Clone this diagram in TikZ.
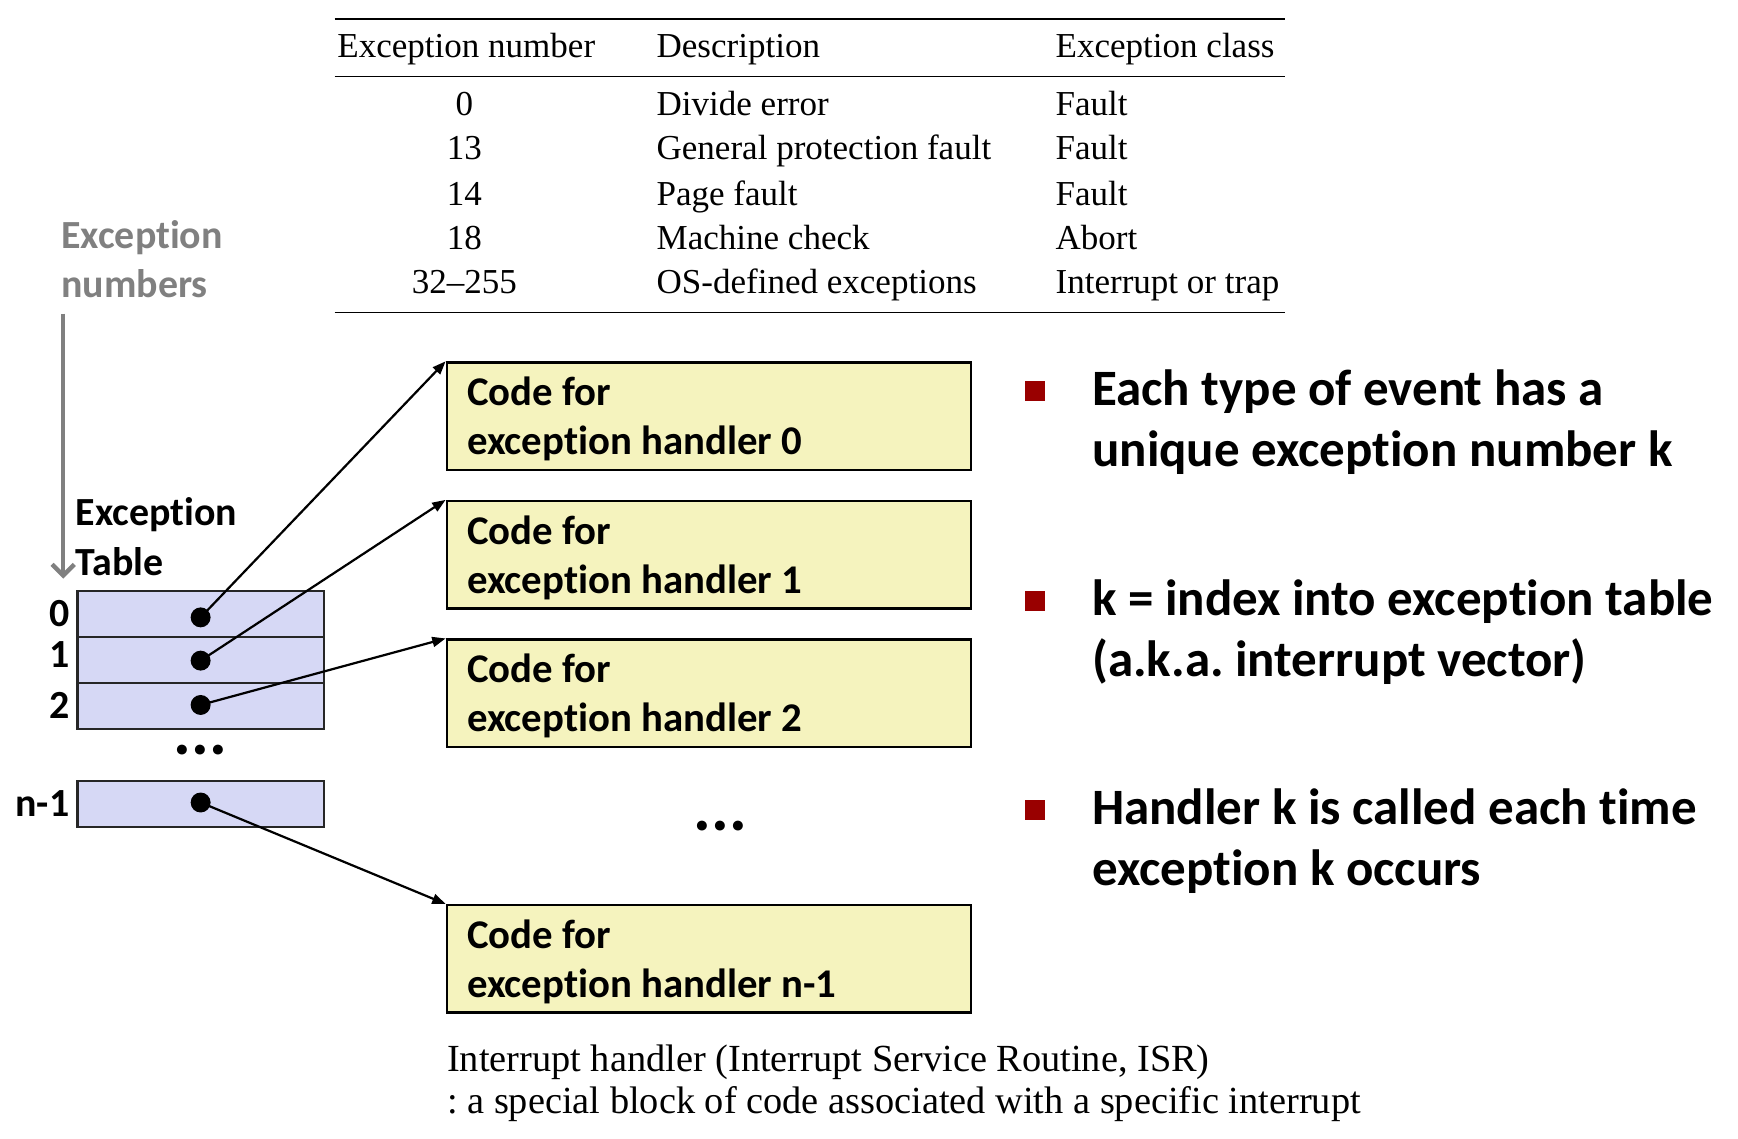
\documentclass[tikz,border=0pt]{standalone}
\usepackage{fontspec}
\setmainfont{Liberation Serif}
\newfontfamily\cbf{Carlito}[Ligatures=NoCommon]
\usetikzlibrary{arrows.meta}
\definecolor{lav}{HTML}{D6D8F5}
\definecolor{yel}{HTML}{F5F3BE}
\definecolor{bulred}{HTML}{990000}
\definecolor{gtext}{HTML}{808080}
\frenchspacing
\tikzset{
  tt/.style={inner sep=0pt, font=\fontsize{15.8}{18}\selectfont},
  rulex/.style={line width=0.8pt, black},
  glab/.style={inner sep=0pt, text=gtext, font=\cbf\bfseries\fontsize{18}{22}\selectfont},
  blab/.style={inner sep=0pt, font=\cbf\bfseries\fontsize{18}{22}\selectfont},
  cell/.style={draw=black!85, line width=1pt, fill=lav, minimum width=111pt, minimum height=20.75pt, inner sep=0pt},
  dotn/.style={circle, fill=black, minimum size=9pt, inner sep=0pt},
  codebox/.style={draw=black, line width=1pt, fill=yel, minimum width=236.5pt, minimum height=48.5pt, inner sep=0pt},
  ct/.style={inner sep=0pt, font=\cbf\bfseries\fontsize{18.4}{22}\selectfont},
  arr/.style={line width=1pt, -{Triangle[length=6pt,width=4.5pt]}},
  bul/.style={fill=bulred, minimum size=9pt, inner sep=0pt},
  bt/.style={inner sep=0pt, font=\cbf\bfseries\fontsize{23}{27}\selectfont},
  dots/.style={inner sep=0pt, font=\cbf\bfseries\fontsize{30}{34}\selectfont},
  ft/.style={inner sep=0pt, font=\fontsize{17.3}{20}\selectfont},
}
\begin{document}
\begin{tikzpicture}[x=0.5pt,y=-0.5pt]
\useasboundingbox (0,0) rectangle (1568,1027);

% table
\draw[rulex] (302,17) -- (1159,17);
\draw[rulex] (302,69) -- (1159,69);
\draw[rulex] (302,282) -- (1159,282);
\node[tt, anchor=base west] (h1) at (304,52) {Exception number};
\node[tt, anchor=base west] (h2) at (592,52) {Description};
\node[tt, anchor=base west] (h3) at (952,52) {Exception class};
\node[tt, anchor=base] (n1) at (419,104) {0};
\node[tt, anchor=base] (n2) at (419,144) {13};
\node[tt, anchor=base] (n3) at (419,185) {14};
\node[tt, anchor=base] (n4) at (419,225) {18};
\node[tt, anchor=base] (n5) at (419,265) {32–255};
\node[tt, anchor=base west] (d1) at (592,104) {Divide error};
\node[tt, anchor=base west] (d2) at (592,144) {General protection fault};
\node[tt, anchor=base west] (d3) at (592,185) {Page fault};
\node[tt, anchor=base west] (d4) at (592,225) {Machine check};
\node[tt, anchor=base west] (d5) at (592,265) {OS-defined exceptions};
\node[tt, anchor=base west] (c1) at (952,104) {Fault};
\node[tt, anchor=base west] (c2) at (952,144) {Fault};
\node[tt, anchor=base west] (c3) at (952,185) {Fault};
\node[tt, anchor=base west] (c4) at (952,225) {Abort};
\node[tt, anchor=base west] (c5) at (952,265) {Interrupt or trap};

% gray label and arrow
\node[glab, anchor=base west] (g1) at (55,224) {Exception};
\node[glab, anchor=base west] (g2) at (55,268) {numbers};
\coordinate (ga1) at (57,283);
\coordinate (ga2) at (57,522);
\draw[gtext, line width=2pt, -{Straight Barb[length=5pt,width=10pt,line width=2pt]}] (ga1) -- (ga2);

% exception table
\node[blab, anchor=base west] (et1) at (68,474) {Exception};
\node[blab, anchor=base west] (et2) at (68,519) {Table};
\node[cell] (r0) at (181,553.75) {};
\node[cell] (r1) at (181,595.25) {};
\node[cell] (r2) at (181,636.75) {};
\node[cell] (rn) at (181,725.5) {};
\node[blab, anchor=base east] (l0) at (63,565) {0};
\node[blab, anchor=base east] (l1) at (63,602) {1};
\node[blab, anchor=base east] (l2) at (63,648) {2};
\node[blab, anchor=base east] (ln) at (63,737) {n-1};
\node[dots] (td) at (181,677) {...};

% code boxes
\node[codebox] (b0) at (639.5,375.5) {};
\node[codebox] (b1) at (639.5,500.5) {};
\node[codebox] (b2) at (639.5,625.5) {};
\node[codebox] (bn) at (639.5,865) {};
\node[ct, anchor=base west] (t0a) at (421,366) {Code for};
\node[ct, anchor=base west] (t0b) at (421,410) {exception handler 0};
\node[ct, anchor=base west] (t1a) at (421,491) {Code for};
\node[ct, anchor=base west] (t1b) at (421,535) {exception handler 1};
\node[ct, anchor=base west] (t2a) at (421,616) {Code for};
\node[ct, anchor=base west] (t2b) at (421,660) {exception handler 2};
\node[ct, anchor=base west] (tna) at (421,856) {Code for};
\node[ct, anchor=base west] (tnb) at (421,900) {exception handler n-1};
\node[dots] (md) at (650,745) {...};

% pointers
\node[dotn] (p0) at (181,557) {};
\node[dotn] (p1) at (181,596) {};
\node[dotn] (p2) at (181,636) {};
\node[dotn] (pn) at (181,724) {};
\draw[arr] (p0.center) -- (b0.north west);
\draw[arr] (p1.center) -- (b1.north west);
\draw[arr] (p2.center) -- (b2.north west);
\draw[arr] (pn.center) -- (bn.north west);

% bullets
\node[bul] (q1) at (934,353) {};
\node[bul] (q2) at (934,542) {};
\node[bul] (q3) at (934,731) {};
\node[bt, anchor=base west] (s1a) at (985,366) {Each type of event has a};
\node[bt, anchor=base west] (s1b) at (985,421) {unique exception number k};
\node[bt, anchor=base west] (s2a) at (985,555) {k = index into exception table};
\node[bt, anchor=base west] (s2b) at (985,610) {(a.k.a. interrupt vector)};
\node[bt, anchor=base west] (s3a) at (985,744) {Handler k is called each time};
\node[bt, anchor=base west] (s3b) at (985,799) {exception k occurs};

% footer
\node[ft, anchor=base west] (f1) at (403,967) {Interrupt handler (Interrupt Service Routine, ISR)};
\node[ft, anchor=base west] (f2) at (403,1005) {: a special block of code associated with a specific interrupt};
\end{tikzpicture}
\end{document}
